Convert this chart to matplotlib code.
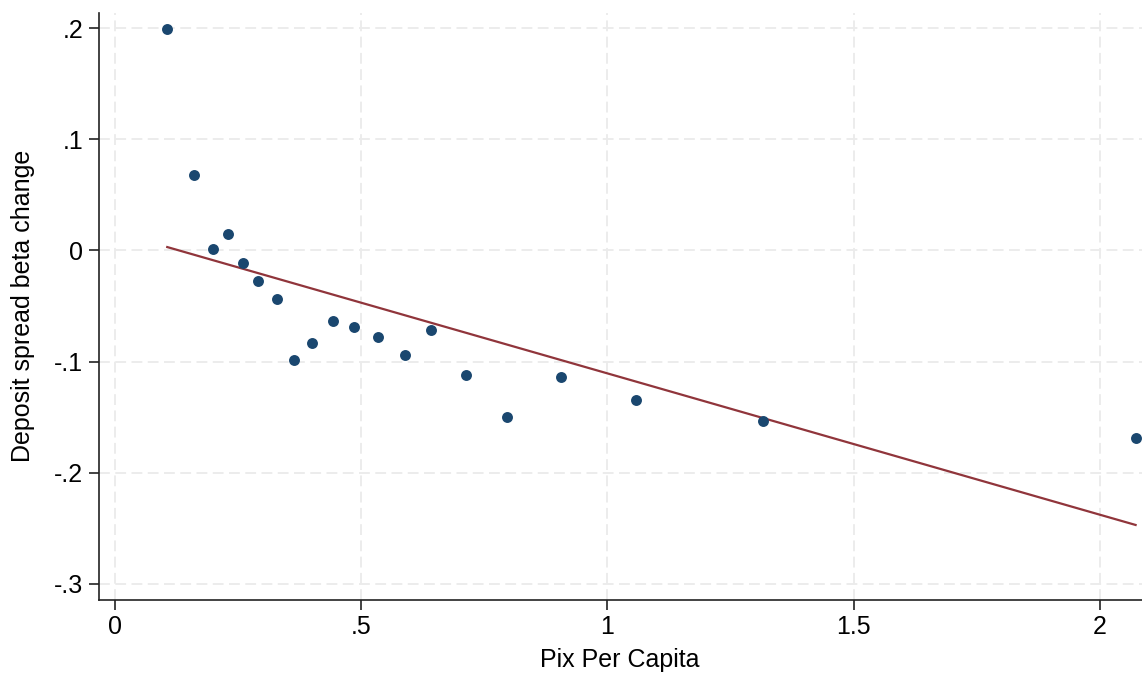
import numpy as np
import matplotlib.pyplot as plt

plt.rcParams['font.family'] = ['Liberation Sans', 'DejaVu Sans']

# binned means
pix = [0.107, 0.161, 0.199, 0.230, 0.261, 0.292, 0.329, 0.364, 0.401, 0.443,
       0.485, 0.535, 0.589, 0.642, 0.713, 0.797, 0.906, 1.059, 1.316, 2.072]
beta = [0.199, 0.068, 0.0013, 0.0145, -0.0113, -0.0275, -0.0437, -0.0983, -0.083, -0.0635,
        -0.0692, -0.0779, -0.0938, -0.0713, -0.112, -0.150, -0.114, -0.1345, -0.1537, -0.169]

# linear fit shown
fit_intercept = 0.0166
fit_slope = -0.1272

xticks = [0, 0.5, 1, 1.5, 2]
xticklabels = ['0', '.5', '1', '1.5', '2']
yticks = [-0.3, -0.2, -0.1, 0, 0.1, 0.2]
yticklabels = ['-.3', '-.2', '-.1', '0', '.1', '.2']

fig = plt.figure(figsize=(11.42, 6.73), dpi=100)
ax = fig.add_axes([98.5/1142, 1-599.5/673, 1-98.5/1142, (599.5-13)/673])

xs = np.array([min(pix), max(pix)])
ax.plot(xs, fit_intercept + fit_slope*xs, color='#90353b', linewidth=1.6, zorder=3)
ax.scatter(pix, beta, s=62, color='#1a476f', zorder=4, linewidths=0, clip_on=False)

ax.set_xlim(-0.0325, 2.085)
ax.set_ylim(-0.314, 0.2135)
ax.set_xticks(xticks)
ax.set_xticklabels(xticklabels)
ax.set_yticks(yticks)
ax.set_yticklabels(yticklabels)

ax.grid(True, color='#ebebeb', linestyle=(0, (6, 3)), linewidth=1.3, zorder=0)
ax.set_axisbelow(True)

ax.spines['right'].set_color('none')
ax.spines['top'].set_color('none')
ax.spines['left'].set_linewidth(1.2)
ax.spines['bottom'].set_linewidth(1.2)
ax.spines['left'].set_color('#222222')
ax.spines['bottom'].set_color('#222222')
ax.tick_params(axis='both', length=7, width=1.2, color='#222222', labelsize=18, pad=4)

ax.set_xlabel('Pix Per Capita', fontsize=18, labelpad=7)
ax.set_ylabel('Deposit spread beta change', fontsize=18, labelpad=14)

fig.savefig('out.png', dpi=100)
